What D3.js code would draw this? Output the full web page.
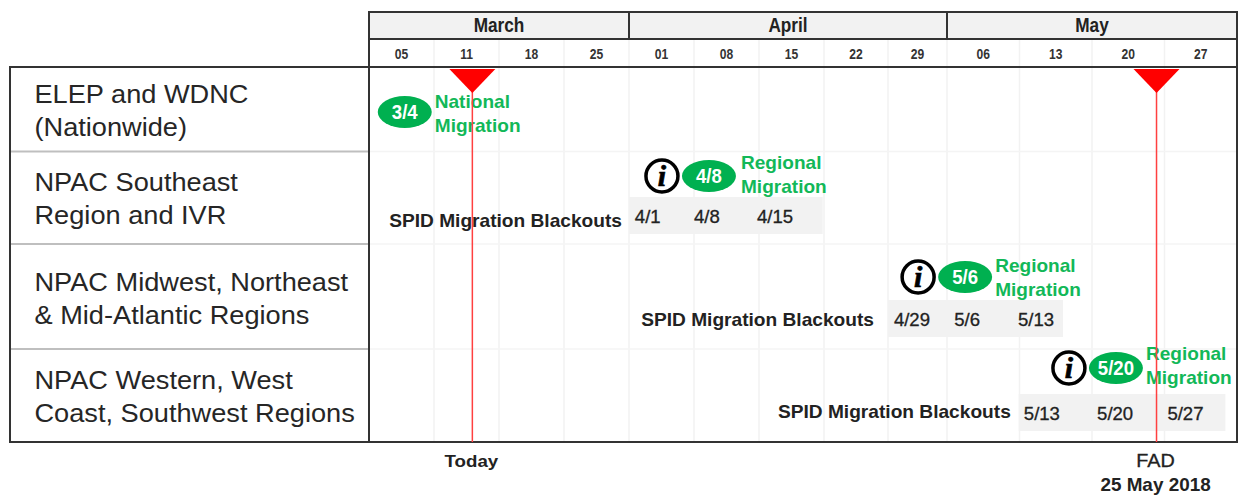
<!DOCTYPE html>
<html><head><meta charset="utf-8">
<script src="https://cdn.jsdelivr.net/npm/d3@7"></script>
<style>
html,body{margin:0;padding:0;background:#fff}
svg{display:block}
text{font-family:"Liberation Sans",Arial,sans-serif}
</style></head><body><div id="chart"></div>
<script>
// ---- data ----
const months = ["March","April","May"];
const monthStartWeek = [0,4,9,13];
const weekLabels = ["05","11","18","25","01","08","15","22","29","06","13","20","27"];
const rowLabels = [
  ["ELEP and WDNC","(Nationwide)"],
  ["NPAC Southeast","Region and IVR"],
  ["NPAC Midwest, Northeast","& Mid-Atlantic Regions"],
  ["NPAC Western, West","Coast, Southwest Regions"]
];
const milestoneNames = ["Today","FAD"];
const milestoneWeeks = [1.59,11.89];
const migrationDates = ["3/4","4/8","5/6","5/20"];
const migrationWeeks = [0.55,5.23,9.25,11.33];
const migrationKinds = [["National","Migration"],["Regional","Migration"],["Regional","Migration"],["Regional","Migration"]];
const blackoutRows = [1,2,3];
const blackoutStart = [4,8,9.99];
const blackoutEnd = [6.98,10.6,12.84];
const blackoutDates = [["4/1","4/8","4/15"],["4/29","5/6","5/13"],["5/13","5/20","5/27"]];
const blackoutDateWeeks = [[4.09,5,5.97],[8.1,9.1,9.98],[10.06,11.07,12.04]];

// ---- scales ----
const x = d3.scaleLinear().domain([0,4,5,6,7,8,9,13]).range([369,629,694,759,824,888,947,1237]);
const y = d3.scaleLinear().domain([0,1,2,3,4]).range([67,151.5,244,349,442]);
const headerTop=12, monthBottom=39, leftEdge=10, rightEdge=1237;
const at=(px,py,sx)=>`translate(${px},${py}) scale(${sx},1)`;

const svg = d3.select("#chart").append("svg").attr("width",1239).attr("height",495);

// month header
svg.selectAll(".month").data(months).join("rect").attr("class","month")
  .attr("x",(d,i)=>x(monthStartWeek[i])).attr("y",headerTop)
  .attr("width",(d,i)=>x(monthStartWeek[i+1])-x(monthStartWeek[i])).attr("height",monthBottom-headerTop)
  .attr("fill","#f2f2f2").attr("stroke","#333").attr("stroke-width",2);
svg.selectAll(".monthLabel").data(months).join("text")
  .attr("transform",(d,i)=>at((x(monthStartWeek[i])+x(monthStartWeek[i+1]))/2,32,0.82))
  .attr("text-anchor","middle").attr("font-size",21).attr("font-weight",700).attr("fill","#222").text(d=>d);

// grid lines
const gridWeeks = d3.range(1,13);
svg.selectAll(".vgrid").data(gridWeeks).join("line").attr("class","vgrid")
  .attr("x1",d=>x(d)).attr("x2",d=>x(d)).attr("y1",monthBottom+1).attr("y2",y(4))
  .attr("stroke","#f2f2f2").attr("stroke-width",1.5);
svg.selectAll(".hgrid").data([1,2,3]).join("line").attr("class","hgrid")
  .attr("x1",x(0)).attr("x2",rightEdge).attr("y1",d=>y(d)).attr("y2",d=>y(d))
  .attr("stroke","#f4f4f4").attr("stroke-width",1.5);
svg.selectAll(".hsep").data([1,2,3]).join("line").attr("class","hsep")
  .attr("x1",leftEdge).attr("x2",x(0)).attr("y1",d=>y(d)).attr("y2",d=>y(d))
  .attr("stroke","#bfbfbf").attr("stroke-width",2);

// week labels
svg.selectAll(".week").data(weekLabels).join("text")
  .attr("transform",(d,i)=>at((x(i)+x(i+1))/2,59,0.78))
  .attr("text-anchor","middle").attr("font-size",15.5).attr("font-weight",700).attr("fill","#333").text(d=>d);

// row labels
rowLabels.forEach((lines,r)=>{
  const base=[103,191,291,389][r];
  svg.selectAll(".rl"+r).data(lines).join("text")
    .attr("transform",(d,i)=>at(34.5,base+i*32.5,1.087))
    .attr("font-size",25).attr("fill","#262626").text(d=>d);
});

// blackout bands
svg.selectAll(".band").data(blackoutRows).join("rect").attr("class","band")
  .attr("x",(d,i)=>x(blackoutStart[i])).attr("width",(d,i)=>x(blackoutEnd[i])-x(blackoutStart[i]))
  .attr("y",d=>[0,197,300,394][d]).attr("height",37).attr("fill","#f2f2f2");
blackoutRows.forEach((r,k)=>{
  const top=[0,197,300,394][r];
  svg.selectAll(".bd"+k).data(blackoutDates[k]).join("text")
    .attr("transform",(d,i)=>at(x(blackoutDateWeeks[k][i]),top+26,1.06))
    .attr("font-size",17.5).attr("stroke","#222").attr("stroke-width",0.3).attr("fill","#222").text(d=>d);
  svg.append("text").attr("transform",at(x(blackoutStart[k])-[7,14,8][k],top+[30,26,24][k],1.094))
    .attr("text-anchor","end").attr("font-size",17.5).attr("font-weight",700).attr("fill","#222").text("SPID Migration Blackouts");
});

// migration pills & captions
const rowCy=[112,176,277,368];
svg.selectAll(".pill").data(migrationDates).join("ellipse").attr("class","pill")
  .attr("cx",(d,i)=>x(migrationWeeks[i])).attr("cy",(d,i)=>rowCy[i]).attr("rx",27).attr("ry",16).attr("fill","#00b050");
svg.selectAll(".pillText").data(migrationDates).join("text")
  .attr("transform",(d,i)=>at(x(migrationWeeks[i]),rowCy[i]+7,0.93))
  .attr("text-anchor","middle").attr("font-size",20).attr("font-weight",700).attr("fill","#fff").text(d=>d);
migrationKinds.forEach((lines,k)=>{
  svg.selectAll(".cap"+k).data(lines).join("text")
    .attr("transform",(d,i)=>at(x(migrationWeeks[k])+[30,32,30,30][k],rowCy[k]+[-4,-7,-5,-8][k]+i*24,1.06))
    .attr("font-size",18).attr("font-weight",700).attr("fill","#12b858").text(d=>d);
});

// info icons
[1,2,3].forEach(k=>{
  const g=svg.append("g").attr("transform",`translate(${x(migrationWeeks[k])-47},${rowCy[k]})`);
  g.append("circle").attr("r",16).attr("fill","#fff").attr("stroke","#000").attr("stroke-width",3.5);
  g.append("text").attr("y",10).attr("text-anchor","middle").attr("font-size",30).attr("font-weight",700)
    .attr("font-style","italic").attr("stroke","#000").attr("stroke-width",0.7)
    .style("font-family","'Liberation Serif',serif").attr("fill","#000").text("i");
});

// frames
svg.append("rect").attr("x",leftEdge).attr("y",67).attr("width",rightEdge-leftEdge).attr("height",375)
  .attr("fill","none").attr("stroke","#333").attr("stroke-width",2);
svg.append("line").attr("x1",x(0)).attr("x2",x(0)).attr("y1",headerTop).attr("y2",442).attr("stroke","#333").attr("stroke-width",2);
svg.append("line").attr("x1",rightEdge).attr("x2",rightEdge).attr("y1",headerTop).attr("y2",442).attr("stroke","#333").attr("stroke-width",2);

// milestones
svg.selectAll(".msLine").data(milestoneWeeks).join("line").attr("class","msLine")
  .attr("x1",d=>x(d)).attr("x2",d=>x(d)).attr("y1",90).attr("y2",442)
  .attr("stroke","#ff4040").attr("stroke-width",1.5);
svg.selectAll(".msTri").data(milestoneWeeks).join("path").attr("class","msTri")
  .attr("d",d=>{const p=d3.path();p.moveTo(x(d)-23,69);p.lineTo(x(d)+23,69);p.lineTo(x(d),93);p.closePath();return p.toString();})
  .attr("fill","#ff0000");
svg.append("text").attr("transform",at(x(milestoneWeeks[0])-1,467,1.1)).attr("text-anchor","middle")
  .attr("font-size",17).attr("font-weight",700).attr("fill","#222").text(milestoneNames[0]);
svg.append("text").attr("transform",at(x(milestoneWeeks[1])-1,467,1.1)).attr("text-anchor","middle")
  .attr("font-size",18).attr("fill","#222").attr("stroke","#222").attr("stroke-width",0.3).text(milestoneNames[1]);
svg.append("text").attr("transform",at(x(milestoneWeeks[1])-1,491,1.08)).attr("text-anchor","middle")
  .attr("font-size",17.5).attr("font-weight",700).attr("fill","#222").text("25 May 2018");
</script></body></html>
